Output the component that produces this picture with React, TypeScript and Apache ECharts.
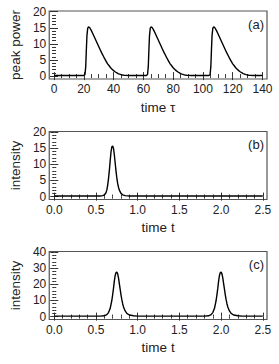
import React, { useEffect, useRef } from "react";
import * as echarts from "echarts";

// ---------- data ----------
// Panel (a): peak power vs round-trip time tau
const peakPowerTrace: [number, number][] = [
  [0, 0.2], [20, 0.2], [20.8, 0.5], [21.3, 3], [21.7, 8], [22.1, 12.5], [22.6, 14.8], [23.2, 15.3],
  [24, 15], [25, 14.2], [26, 13.2], [27, 12.2], [28, 11.2], [29, 10.2], [30, 9.2], [31, 8.2],
  [32, 7.2], [33, 6.3], [34, 5.4], [35, 4.6], [36, 3.8], [37, 3.2], [38, 2.6], [39, 2.1],
  [40, 1.7], [41, 1.35], [42, 1.05], [43, 0.8], [44, 0.6], [45, 0.45], [46, 0.35], [47, 0.28],
  [48, 0.22], [50, 0.2],
  [62, 0.2], [62.8, 0.5], [63.3, 3], [63.7, 8], [64.1, 12.5], [64.6, 14.8], [65.2, 15.3],
  [66, 15], [67, 14.2], [68, 13.2], [69, 12.2], [70, 11.2], [71, 10.2], [72, 9.2], [73, 8.2],
  [74, 7.2], [75, 6.3], [76, 5.4], [77, 4.6], [78, 3.8], [79, 3.2], [80, 2.6], [81, 2.1],
  [82, 1.7], [83, 1.35], [84, 1.05], [85, 0.8], [86, 0.6], [87, 0.45], [88, 0.35], [89, 0.28],
  [90, 0.22], [92, 0.2],
  [104, 0.2], [104.8, 0.5], [105.3, 3], [105.7, 8], [106.1, 12.5], [106.6, 14.8], [107.2, 15.3],
  [108, 15], [109, 14.2], [110, 13.2], [111, 12.2], [112, 11.2], [113, 10.2], [114, 9.2], [115, 8.2],
  [116, 7.2], [117, 6.3], [118, 5.4], [119, 4.6], [120, 3.8], [121, 3.2], [122, 2.6], [123, 2.1],
  [124, 1.7], [125, 1.35], [126, 1.05], [127, 0.8], [128, 0.6], [129, 0.45], [130, 0.35], [131, 0.28],
  [132, 0.22], [134, 0.2], [140, 0.2],
];

// Panel (b): single pulse intensity vs time t
const intensityB: [number, number][] = [
  [0, 0.2], [0.55, 0.2], [0.58, 0.3], [0.6, 0.5], [0.62, 1.2], [0.63, 2], [0.64, 3.5], [0.65, 5.5],
  [0.66, 8], [0.67, 11], [0.68, 13.8], [0.69, 15.4], [0.7, 15.7], [0.71, 15], [0.72, 13],
  [0.73, 10.5], [0.74, 8], [0.75, 5.8], [0.76, 4.1], [0.77, 2.9], [0.78, 2], [0.8, 1],
  [0.82, 0.55], [0.85, 0.3], [0.88, 0.22], [0.9, 0.2], [2.5, 0.2],
];

// Panel (c): two pulses intensity vs time t
const intensityC: [number, number][] = [
  [0, 0.3], [0.55, 0.3], [0.6, 0.5], [0.63, 1.2], [0.65, 2.5], [0.67, 5], [0.69, 10], [0.7, 13.5],
  [0.71, 17.5], [0.72, 22], [0.73, 25.5], [0.74, 27.3], [0.75, 27.6], [0.76, 26.5], [0.77, 24],
  [0.78, 20.5], [0.79, 17], [0.8, 13.5], [0.81, 10.5], [0.82, 8], [0.83, 6], [0.85, 3.5],
  [0.87, 2], [0.9, 1], [0.95, 0.5], [1, 0.3],
  [1.8, 0.3], [1.85, 0.5], [1.88, 1.2], [1.9, 2.5], [1.92, 5], [1.94, 10], [1.95, 13.5],
  [1.96, 17.5], [1.97, 22], [1.98, 25.5], [1.99, 27.3], [2.0, 27.6], [2.01, 26.5], [2.02, 24],
  [2.03, 20.5], [2.04, 17], [2.05, 13.5], [2.06, 10.5], [2.07, 8], [2.08, 6], [2.1, 3.5],
  [2.12, 2], [2.15, 1], [2.2, 0.5], [2.25, 0.3], [2.5, 0.3],
];

// tick labels
const tauTicks = [0, 20, 40, 60, 80, 100, 120, 140];
const timeTicks = [0, 0.5, 1, 1.5, 2, 2.5];
const powerTicks = [0, 5, 10, 15, 20];
const intensityTicksC = [0, 10, 20, 30, 40];

const panelLabels = ["(a)", "(b)", "(c)"];
const xNames = ["time τ", "time t", "time t"];
const yNames = ["peak power", "intensity", "intensity"];

// ---------- layout ----------
const FONT = "'Liberation Sans', Arial, Helvetica, sans-serif";
const GL = 41.7;
const GW = 225.3;
const GH = 68;
const TOPS = [11, 131.5, 251.5];

function subdivide(major: number[], n: number): number[] {
  const out: number[] = [];
  for (let i = 0; i < major.length - 1; i++) {
    const step = (major[i + 1] - major[i]) / n;
    for (let k = 1; k < n; k++) out.push(+(major[i] + k * step).toFixed(6));
  }
  return out;
}

export default function App() {
  const ref = useRef<HTMLDivElement>(null);

  useEffect(() => {
    if (!ref.current) return;
    const chart = echarts.init(ref.current, null, { renderer: "svg" });

    const panels = [
      { data: peakPowerTrace, xMin: -3.2, xMax: 143, xMajor: tauTicks, xSub: 4, yMin: -0.9, yMax: 20.2, yMajor: powerTicks, ySub: 5, xFmt: (v: number) => String(v) },
      { data: intensityB, xMin: -0.06, xMax: 2.55, xMajor: timeTicks, xSub: 5, yMin: -0.9, yMax: 20.2, yMajor: powerTicks, ySub: 5, xFmt: (v: number) => v.toFixed(1) },
      { data: intensityC, xMin: -0.06, xMax: 2.55, xMajor: timeTicks, xSub: 5, yMin: -1.8, yMax: 40.4, yMajor: intensityTicksC, ySub: 5, xFmt: (v: number) => v.toFixed(1) },
    ];

    const grids: any[] = [];
    const xAxes: any[] = [];
    const yAxes: any[] = [];
    const series: any[] = [];
    const graphics: any[] = [];
    const tickColor = "#333";

    panels.forEach((p, g) => {
      grids.push({
        left: GL, top: TOPS[g], width: GW, height: GH,
        show: true, borderColor: "#555", borderWidth: 1.2, backgroundColor: "transparent",
      });
      const xMinor = subdivide(p.xMajor, p.xSub);
      const yMinor = subdivide(p.yMajor, p.ySub);
      const baseX = { type: "value", gridIndex: g, min: p.xMin, max: p.xMax, splitLine: { show: false }, axisLine: { show: false } };
      const baseY = { type: "value", gridIndex: g, min: p.yMin, max: p.yMax, splitLine: { show: false }, axisLine: { show: false } };
      xAxes.push({
        ...baseX, position: "bottom",
        name: xNames[g], nameLocation: "middle", nameGap: 21,
        nameTextStyle: { fontFamily: FONT, fontSize: 13.5, color: "#222" },
        axisTick: { show: true, inside: true, length: 4, customValues: p.xMajor, lineStyle: { color: tickColor, width: 1 } },
        axisLabel: { show: true, customValues: p.xMajor, formatter: p.xFmt, margin: 4, fontFamily: FONT, fontSize: 12, color: "#222" },
      });
      xAxes.push({
        ...baseX, position: "bottom",
        axisTick: { show: true, inside: true, length: 2, customValues: xMinor, lineStyle: { color: tickColor, width: 1 } },
        axisLabel: { show: false },
      });
      xAxes.push({
        ...baseX, position: "top",
        axisTick: { show: true, inside: true, length: 4, customValues: p.xMajor, lineStyle: { color: tickColor, width: 1 } },
        axisLabel: { show: false },
      });
      xAxes.push({
        ...baseX, position: "top",
        axisTick: { show: true, inside: true, length: 2, customValues: xMinor, lineStyle: { color: tickColor, width: 1 } },
        axisLabel: { show: false },
      });
      yAxes.push({
        ...baseY, position: "left",
        name: yNames[g], nameLocation: "middle", nameGap: 25,
        nameTextStyle: { fontFamily: FONT, fontSize: 13.5, color: "#222" },
        axisTick: { show: true, inside: true, length: 4, customValues: p.yMajor, lineStyle: { color: tickColor, width: 1 } },
        axisLabel: { show: true, customValues: p.yMajor, margin: 3, fontFamily: FONT, fontSize: 12, color: "#222" },
      });
      yAxes.push({
        ...baseY, position: "left",
        axisTick: { show: true, inside: true, length: 2, customValues: yMinor, lineStyle: { color: tickColor, width: 1 } },
        axisLabel: { show: false },
      });
      yAxes.push({
        ...baseY, position: "right",
        axisTick: { show: true, inside: true, length: 4, customValues: p.yMajor, lineStyle: { color: tickColor, width: 1 } },
        axisLabel: { show: false },
      });
      yAxes.push({
        ...baseY, position: "right",
        axisTick: { show: true, inside: true, length: 2, customValues: yMinor, lineStyle: { color: tickColor, width: 1 } },
        axisLabel: { show: false },
      });
      series.push({
        type: "line", xAxisIndex: 4 * g, yAxisIndex: 4 * g, data: p.data,
        showSymbol: false, symbol: "none", smooth: false, clip: true,
        lineStyle: { color: "#000", width: 1.4 },
      });
      graphics.push({
        type: "text", x: 264, y: TOPS[g] + 13,
        style: { text: panelLabels[g], textAlign: "right", textVerticalAlign: "middle", font: `13px ${FONT}`, fill: "#222" },
      });
    });

    chart.setOption({
      animation: false,
      backgroundColor: "#fff",
      grid: grids,
      xAxis: xAxes,
      yAxis: yAxes,
      series,
      graphic: graphics,
    });

    return () => chart.dispose();
  }, []);

  return <div ref={ref} style={{ position: "fixed", left: 0, top: 0, width: 279, height: 364 }} />;
}
